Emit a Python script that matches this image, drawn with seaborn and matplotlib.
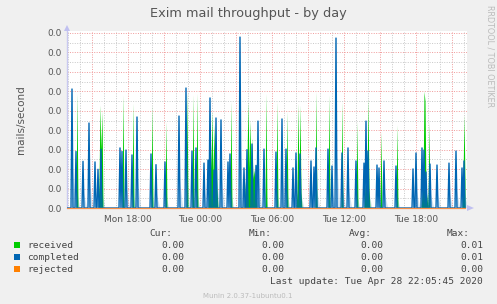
import numpy as np
import pandas as pd
import matplotlib
matplotlib.use("Agg")
import matplotlib.pyplot as plt
import seaborn as sns
from matplotlib.ticker import FixedLocator, FuncFormatter
from matplotlib.patches import Rectangle, Polygon

# ---- data (time in hours since Mon 00:00, values in mails/second * 1000) ----
completed_t = [13.36, 13.69, 14.28, 14.78, 15.22, 15.53, 15.78, 17.36, 17.53, 17.86,
               18.36, 18.78, 19.89, 20.31, 21.06, 22.28, 22.86, 23.36, 23.69, 24.31,
               24.69, 24.86, 25.19, 25.36, 25.78, 26.36, 26.53, 27.36, 27.69, 27.89,
               28.36, 28.69, 28.86, 29.36, 30.36, 30.86, 31.19, 31.78, 32.03, 32.36,
               33.28, 33.53, 33.69, 34.69, 35.03, 35.36, 35.86, 36.36, 37.03, 37.69,
               37.86, 38.03, 38.78, 38.94, 39.36, 40.36, 41.78, 42.03, 42.53, 42.69,
               42.86, 43.19, 43.78, 44.78, 45.36, 45.86, 46.03]
completed_v = [6.12, 2.91, 2.40, 4.37, 2.37, 1.99, 3.02, 3.09, 2.91, 2.98,
               2.73, 4.68, 2.78, 2.23, 2.37, 4.73, 6.17, 2.93, 3.09, 2.31,
               2.47, 5.66, 1.95, 4.63, 4.53, 2.37, 2.78, 8.79, 2.06, 3.00,
               3.29, 2.19, 4.47, 3.03, 2.88, 4.58, 3.03, 2.06, 2.83, 2.78,
               2.42, 2.11, 3.09, 3.03, 2.16, 8.74, 2.83, 3.09, 2.42, 2.31,
               4.47, 2.93, 2.21, 2.06, 2.42, 2.16, 2.01, 2.83, 3.09, 2.98,
               1.85, 2.26, 2.21, 2.31, 2.93, 2.06, 2.42]

received_t = [13.78, 15.58, 15.67, 15.75, 15.83, 17.61, 18.44, 20.03, 21.14, 22.94,
              23.44, 23.78,
              24.75, 24.83, 24.92, 25.00, 25.08, 25.17, 25.25, 25.33, 25.42,
              26.61,
              27.75, 27.83, 27.92, 28.00, 28.08, 28.17, 28.25, 28.33, 28.42, 28.50,
              28.58, 28.67,
              29.47, 30.44, 31.28,
              32.08, 32.17, 32.25, 32.33, 32.42,
              33.69, 34.75, 35.86, 37.11,
              37.78, 37.86, 37.94, 38.03, 38.11,
              39.11, 40.44,
              42.53, 42.61, 42.69, 42.78, 42.86, 42.94,
              43.08, 45.92, 46.00, 46.08]
received_v = [5.90, 1.20, 5.30, 3.00, 5.00, 5.83, 5.40, 5.30, 4.46, 6.00,
              5.83, 5.91,
              1.20, 4.50, 2.00, 5.00, 1.50, 4.30, 1.30, 3.50, 1.00,
              5.49,
              1.00, 1.80, 2.50, 5.50, 2.00, 4.50, 1.80, 3.60, 1.50, 2.00,
              1.20, 0.80,
              5.90, 5.49, 4.97,
              0.80, 5.40, 0.90, 5.30, 0.80,
              6.00, 5.83, 5.49, 4.46,
              1.00, 1.20, 1.20, 5.66, 1.00,
              3.94, 4.29,
              0.60, 1.00, 6.00, 5.50, 1.00, 0.50,
              4.46, 1.40, 4.80, 1.40]

rejected_t = [12.92, 46.08]
rejected_v = [0.0, 0.0]

x_tick_pos = [18, 24, 30, 36, 42]
x_tick_labels = ["Mon 18:00", "Tue 00:00", "Tue 06:00", "Tue 12:00", "Tue 18:00"]

legend_names = ["received", "completed", "rejected"]
legend_colors = ["#00CC00", "#0066B3", "#FF8000"]
stat_cur = ["0.00", "0.00", "0.00"]
stat_min = ["0.00", "0.00", "0.00"]
stat_avg = ["0.00", "0.00", "0.00"]
stat_max = ["0.01", "0.01", "0.00"]

# ---- build 5-minute sample series ----
k0, k1 = 155, 554
grid_t = np.arange(k0, k1) / 12.0


def build(ts, vs):
    s = np.zeros(len(grid_t))
    for t, v in zip(ts, vs):
        k = int(round(t * 12)) - k0
        if 0 <= k < len(s):
            s[k] = max(s[k], v * 0.001)
    return s


df = pd.DataFrame({
    "t": grid_t,
    "received": build(received_t, received_v),
    "completed": build(completed_t, completed_v),
})
df_rej = pd.DataFrame({"t": rejected_t, "rejected": rejected_v})

# ---- figure ----
sns.set_style("white")
plt.rcParams["font.family"] = ["DejaVu Sans"]
W, H = 497, 304
fig = plt.figure(figsize=(W / 100, H / 100), dpi=100, facecolor="#F0F0F0")
ax = fig.add_axes([67 / W, 1 - 208 / H, 400 / W, 177 / H])
ax.set_facecolor("white")

ytop = 0.009 * 177 / 175
ax.set_xlim(12.9167, 46.25)
ax.set_ylim(0, ytop)

# grid
ax.xaxis.set_major_locator(FixedLocator(list(range(15, 46, 3))))
ax.xaxis.set_minor_locator(FixedLocator(list(range(13, 47))))
ax.yaxis.set_major_locator(FixedLocator([i * 0.001 for i in range(10)]))
ax.yaxis.set_minor_locator(FixedLocator([i * 0.001 + 0.0005 for i in range(9)]))
ax.grid(which="minor", color="#C8C8C8", linestyle=(0, (1, 1.5)), linewidth=0.7)
ax.grid(which="major", color="#F09A9A", linestyle=(0, (1, 1.5)), linewidth=0.7)
ax.set_axisbelow(True)


def xfmt(v, pos):
    for p, l in zip(x_tick_pos, x_tick_labels):
        if abs(v - p) < 1e-6:
            return l
    return ""


ax.xaxis.set_major_formatter(FuncFormatter(xfmt))
ax.yaxis.set_major_formatter(FuncFormatter(lambda v, p: "%.1f" % v))
ax.tick_params(axis="both", which="both", length=0, labelsize=6.5,
               labelcolor="#555555", pad=4)
ax.tick_params(axis="x", pad=5)

for s in ["top", "right", "bottom"]:
    ax.spines[s].set_visible(False)
ax.spines["left"].set_color("#C8C8F0")
ax.spines["left"].set_linewidth(1.0)

# received area
ax.fill_between(df["t"], 0, df["received"], color="#00CC00", linewidth=0, zorder=3)

# light wedges after completed spikes
for t, v in zip(completed_t, completed_v):
    tt = round(t * 12) / 12
    ax.add_patch(Polygon([(tt, 0), (tt, 0.4 * v * 0.001), (tt + 0.35, 0)],
                         closed=True, facecolor="#0066B3", alpha=0.18,
                         edgecolor="none", zorder=3.5))

sns.lineplot(data=df, x="t", y="completed", ax=ax, color="#0066B3",
             linewidth=1.0, zorder=4, legend=False)
sns.lineplot(data=df_rej, x="t", y="rejected", ax=ax, color="#F5904A",
             linewidth=0.9, zorder=5, legend=False, clip_on=False)
ax.set_xlabel("")
ax.set_ylabel("")

# axis arrows
fig.patches.append(Polygon([(64 / W, 1 - 31 / H), (70 / W, 1 - 31 / H), (67 / W, 1 - 25 / H)],
                           closed=True, transform=fig.transFigure,
                           facecolor="#C0C0F0", edgecolor="none"))
fig.patches.append(Polygon([(467 / W, 1 - 205 / H), (467 / W, 1 - 211 / H), (474 / W, 1 - 208 / H)],
                           closed=True, transform=fig.transFigure,
                           facecolor="#C0C0F0", edgecolor="none"))

# texts
fig.text(248 / W, 1 - 14 / H, "Exim mail throughput - by day", ha="center",
         va="center", fontsize=9.3, color="#555555")
fig.text(21 / W, 1 - 120 / H, "mails/second", ha="center", va="center",
         rotation=90, fontsize=7.5, color="#555555")
fig.text(490 / W, 1 - 5 / H, "RRDTOOL / TOBI OETIKER", ha="center", va="top",
         rotation=270, fontsize=5.8, color="#BBBBBB")

mono = "DejaVu Sans Mono"
tc = "#444444"
fs = 6.8
fig.text(172 / W, 1 - 233 / H, "Cur:", ha="right", va="center", family=mono, fontsize=fs, color=tc)
fig.text(272 / W, 1 - 233 / H, "Min:", ha="right", va="center", family=mono, fontsize=fs, color=tc)
fig.text(372 / W, 1 - 233 / H, "Avg:", ha="right", va="center", family=mono, fontsize=fs, color=tc)
fig.text(470 / W, 1 - 233 / H, "Max:", ha="right", va="center", family=mono, fontsize=fs, color=tc)
rows_y = [245, 257, 269]
for i, name in enumerate(legend_names):
    y = rows_y[i]
    fig.patches.append(Rectangle((14 / W, 1 - (y + 3) / H), 6 / W, 6 / H,
                                 transform=fig.transFigure, facecolor=legend_colors[i],
                                 edgecolor="none"))
    fig.text(27 / W, 1 - y / H, name, ha="left", va="center", family=mono, fontsize=fs, color=tc)
    fig.text(184 / W, 1 - y / H, stat_cur[i], ha="right", va="center", family=mono, fontsize=fs, color=tc)
    fig.text(284 / W, 1 - y / H, stat_min[i], ha="right", va="center", family=mono, fontsize=fs, color=tc)
    fig.text(383 / W, 1 - y / H, stat_avg[i], ha="right", va="center", family=mono, fontsize=fs, color=tc)
    fig.text(483 / W, 1 - y / H, stat_max[i], ha="right", va="center", family=mono, fontsize=fs, color=tc)
fig.text(483 / W, 1 - 281 / H, "Last update: Tue Apr 28 22:05:45 2020", ha="right",
         va="center", family=mono, fontsize=fs, color=tc)
fig.text(248 / W, 1 - 296 / H, "Munin 2.0.37-1ubuntu0.1", ha="center", va="center",
         fontsize=5, color="#BBBBBB")

fig.savefig("out.png", dpi=100, facecolor=fig.get_facecolor())
